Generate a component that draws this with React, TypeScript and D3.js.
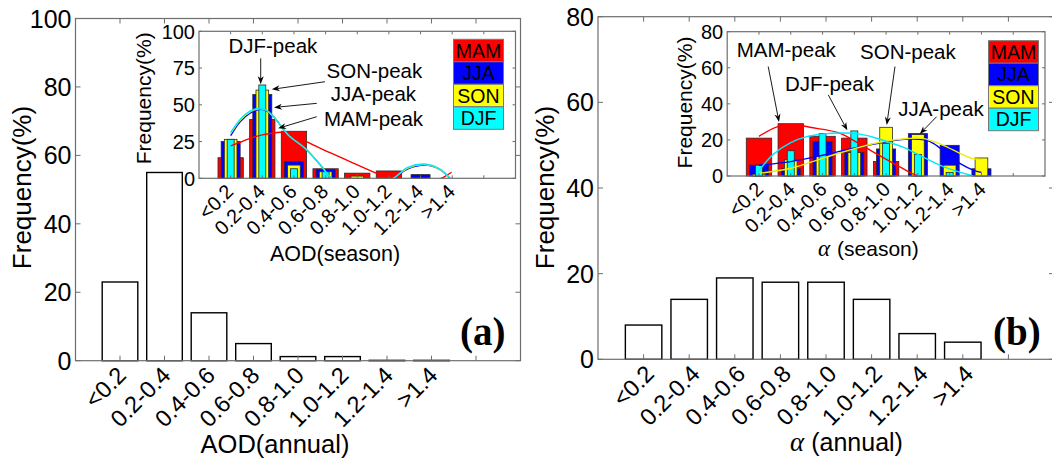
import React from "react";
import * as d3 from "d3";

// ---------------- DATA ----------------
const categories = ["<0.2", "0.2-0.4", "0.4-0.6", "0.6-0.8", "0.8-1.0", "1.0-1.2", "1.2-1.4", ">1.4"];
const seasons = ["MAM", "JJA", "SON", "DJF"];

const aodAnnual = [23, 55, 14, 5, 1.2, 1.2, 0.1, 0.1];
const alphaAnnual = [8, 14, 19, 18, 18, 14, 6, 4];

const aodMAM = [14, 40, 32, 6.5, 3.5, 5, 0, 0];
const aodJJA = [25, 57, 11.5, 6, 0, 0, 2.5, 0];
const aodSON = [26.5, 60, 9, 4.5, 1.5, 0, 0, 0];
const aodDJF = [26.5, 63.5, 6.5, 4.5, 0, 0, 0, 0];

const alphaMAM = [21, 29, 22, 21, 8, 0, 0, 0];
const alphaJJA = [6, 4, 19, 13, 15, 23.5, 17, 4];
const alphaSON = [1, 9, 11, 13, 27, 23, 6, 10];
const alphaDJF = [6, 14, 23.5, 25, 18, 12, 2, 0];

// fitted curves: [category position, frequency %]
const aodCurveMAM: [number, number][] = [[1, 22], [1.32, 24.7], [1.55, 26.7], [2, 29.5], [2.4, 31], [2.7, 31.5], [3.0, 30], [3.35, 25.4], [4.14, 17.4], [5.56, 3.8], [6.0, -1], [6.6, -5], [7.2, -4], [7.72, 0.7], [7.98, 4.1]];
const aodCurveJJA: [number, number][] = [[1, 29], [1.3, 38.5], [1.6, 44.2], [1.9, 46.8], [2.1, 46.3], [2.35, 42], [2.82, 29.5], [3.35, 20.4], [3.88, 7.9], [4.19, 0], [4.8, -6], [5.5, -5], [6.14, 0], [6.6, 6.5], [7.19, 9], [7.6, 6], [7.93, 0]];
const aodCurveSON: [number, number][] = [[1, 30.5], [1.3, 39.5], [1.6, 45], [1.9, 47.3], [2.1, 46.5], [2.35, 42], [2.82, 29.5], [3.35, 20.4], [3.88, 7.9], [4.19, 0], [4.8, -6], [5.5, -5], [6.14, 0], [6.6, 7], [7.19, 9.2], [7.6, 6.2], [7.93, 0]];
const aodCurveDJF: [number, number][] = [[1, 31], [1.3, 40], [1.6, 45.5], [1.9, 47.6], [2.1, 46.8], [2.35, 42], [2.82, 29.5], [3.35, 20.4], [3.88, 7.9], [4.19, 0], [4.8, -6], [5.5, -5], [6.14, 0], [6.6, 7.5], [7.19, 9.6], [7.6, 6.5], [7.93, 0]];

const alphaCurveMAM: [number, number][] = [[1, 22], [1.6, 27.4], [2.2, 28.3], [2.6, 27], [3.5, 24], [4.0, 19.5], [4.67, 12.6], [5.33, 6.1], [5.7, 2.4], [6.0, 0]];
const alphaCurveJJA: [number, number][] = [[1, 6], [2, 8], [3, 11.5], [4, 15.5], [5, 19], [5.6, 20.3], [6.2, 20], [6.5, 18], [7, 11], [7.32, 7], [7.74, 3.3], [8, 2]];
const alphaCurveSON: [number, number][] = [[1, 1.5], [2, 4.3], [3, 9.8], [4, 15.2], [5, 19.4], [5.7, 20.8], [6.2, 20.7], [6.8, 17], [7.32, 12.6], [7.7, 9.8], [8, 9]];
const alphaCurveDJF: [number, number][] = [[1, 3], [1.45, 12], [2, 18.5], [2.5, 21.8], [3, 23.2], [3.55, 23.8], [4.07, 23.5], [4.6, 21.5], [5.12, 18.5], [5.54, 16], [6, 12], [6.8, 5.2], [7.74, 0]];

const aodYTicks = [0, 20, 40, 60, 80, 100];
const alphaYTicks = [0, 20, 40, 60, 80];
const aodInsetYTicks = [0, 25, 50, 75, 100];
const alphaInsetYTicks = [0, 20, 40, 60, 80];

// ---------------- STYLE / LAYOUT ----------------
const SANS = "'Liberation Sans', Arial, Helvetica, sans-serif";
const SERIF = "'Liberation Serif', 'Times New Roman', serif";
const seasonFill = ["#ff0000", "#0000ff", "#ffff00", "#00ffff"];
const curveColor = ["#ff0000", "#0000ff", "#eeee00", "#00e8ff"];
const seasonBarWidth = [0.8, 0.6, 0.4, 0.22];
const AXIS = "#6e6e6e";

type Box = { l: number; r: number; t: number; b: number };
type Annot = { label: string; tx: number; ty: number; from: [number, number]; to: [number, number] };

const aodAnnots: Annot[] = [
  { label: "DJF-peak", tx: 0.93, ty: 85.5, from: [1.95, 81.6], to: [1.95, 64] },
  { label: "SON-peak", tx: 4.03, ty: 68.5, from: [3.98, 65.7], to: [2.3, 60.5] },
  { label: "JJA-peak", tx: 4.16, ty: 52.6, from: [3.72, 51], to: [2.37, 48.2] },
  { label: "MAM-peak", tx: 3.95, ty: 35.6, from: [3.72, 41.9], to: [2.5, 34] },
];
const alphaAnnots: Annot[] = [
  { label: "MAM-peak", tx: 0.3, ty: 65.7, from: [1.29, 60.7], to: [1.63, 30] },
  { label: "DJF-peak", tx: 1.82, ty: 47.2, from: [3.18, 45], to: [3.78, 25.3] },
  { label: "SON-peak", tx: 4.18, ty: 64.8, from: [5.28, 60.7], to: [5.02, 28.3] },
  { label: "JJA-peak", tx: 5.38, ty: 33.3, from: [6.59, 32.9], to: [6.06, 23.3] },
];

function Arrow({ x1, y1, x2, y2 }: { x1: number; y1: number; x2: number; y2: number }) {
  const a = Math.atan2(y2 - y1, x2 - x1);
  const L = 8, hw = 3;
  const bx = x2 - L * Math.cos(a), by = y2 - L * Math.sin(a);
  const nx = x2 - L * 0.7 * Math.cos(a), ny = y2 - L * 0.7 * Math.sin(a);
  const p1 = [bx + hw * Math.sin(a), by - hw * Math.cos(a)];
  const p2 = [bx - hw * Math.sin(a), by + hw * Math.cos(a)];
  return (
    <g>
      <line x1={x1} y1={y1} x2={nx} y2={ny} stroke="#000" strokeWidth={0.9} />
      <path d={`M${x2},${y2}L${p1[0]},${p1[1]}L${nx},${ny}L${p2[0]},${p2[1]}Z`} fill="#000" />
    </g>
  );
}

function Frame({ box, x, y, yTicks, tickLen, tickFont, labelGap }: any) {
  const xt = d3.range(1, 10);
  return (
    <g>
      <rect x={box.l} y={box.t} width={box.r - box.l} height={box.b - box.t} fill="none" stroke={AXIS} strokeWidth={1.2} />
      {xt.map((v) => (
        <g key={"xt" + v}>
          <line x1={x(v)} x2={x(v)} y1={box.b} y2={box.b - tickLen} stroke={AXIS} strokeWidth={1} />
          <line x1={x(v)} x2={x(v)} y1={box.t} y2={box.t + tickLen} stroke={AXIS} strokeWidth={1} />
        </g>
      ))}
      {yTicks.map((v: number) => (
        <g key={"yt" + v}>
          <line x1={box.l} x2={box.l + tickLen} y1={y(v)} y2={y(v)} stroke={AXIS} strokeWidth={1} />
          <line x1={box.r} x2={box.r - tickLen} y1={y(v)} y2={y(v)} stroke={AXIS} strokeWidth={1} />
          <text x={box.l - labelGap} y={y(v)} dy="0.36em" textAnchor="end" fontFamily={SANS} fontSize={tickFont} fill="#000">
            {v}
          </text>
        </g>
      ))}
    </g>
  );
}

function MainPanel({ box, yMax, yTicks, values, tickDx, tickDy, letter, letterX, ylabelX, ylabelY, xTitle }: any) {
  const x = d3.scaleLinear().domain([0, 10]).range([box.l, box.r]);
  const y = d3.scaleLinear().domain([0, yMax]).range([box.b, box.t]);
  const bw = 0.8;
  return (
    <g>
      {values.map((v: number, i: number) => (
        <rect key={i} x={x(i + 1 - bw / 2)} y={y(v)} width={x(bw) - x(0)} height={y(0) - y(v)} fill="#fff" stroke="#000" strokeWidth={1.4} />
      ))}
      <Frame box={box} x={x} y={y} yTicks={yTicks} tickLen={5} tickFont={25} labelGap={4} />
      {categories.map((c, i) => (
        <text key={c} transform={`translate(${x(i + 1) + tickDx},${box.b + tickDy}) rotate(-45)`} textAnchor="end" fontFamily={SANS} fontSize={23.5} fill="#000">
          {c}
        </text>
      ))}
      <text transform={`translate(${ylabelX},${ylabelY}) rotate(-90)`} textAnchor="middle" fontFamily={SANS} fontSize={26} fill="#000">
        Frequency(%)
      </text>
      {xTitle}
      <text x={letterX} y={345} fontFamily={SERIF} fontWeight="bold" fontSize={39} fill="#000">
        {letter}
      </text>
    </g>
  );
}

function Inset({ id, box, yMax, yTicks, series, curves, annots, legendRight, legendTop, ylabelX, ylabelY, tickDx, xTitle }: any) {
  const x = d3.scaleLinear().domain([0, 10]).range([box.l, box.r]);
  const y = d3.scaleLinear().domain([0, yMax]).range([box.b, box.t]);
  const line = d3
    .line<[number, number]>()
    .x((d) => x(d[0]))
    .y((d) => y(d[1]))
    .curve(d3.curveCatmullRom.alpha(0.5));
  const lw = 50, lh = 22.5;
  const lx = box.r - legendRight - lw, ly = box.t + legendTop;
  return (
    <g>
      <rect x={box.l} y={box.t} width={box.r - box.l} height={box.b - box.t} fill="#fff" />
      <defs>
        <clipPath id={id}>
          <rect x={box.l} y={box.t} width={box.r - box.l} height={box.b - box.t} />
        </clipPath>
      </defs>
      {series.map((vals: number[], si: number) =>
        vals.map((v: number, i: number) =>
          v > 0 ? (
            <rect
              key={si + "-" + i}
              x={x(i + 1 - seasonBarWidth[si] / 2)}
              y={y(v)}
              width={x(seasonBarWidth[si]) - x(0)}
              height={y(0) - y(v)}
              fill={seasonFill[si]}
              stroke="#2a2a2a"
              strokeWidth={0.8}
            />
          ) : null
        )
      )}
      <g clipPath={`url(#${id})`}>
        {curves.map((c: [number, number][], si: number) => (
          <path key={si} d={line(c) || ""} fill="none" stroke={curveColor[si]} strokeWidth={1.4} />
        ))}
      </g>
      <Frame box={box} x={x} y={y} yTicks={yTicks} tickLen={3} tickFont={20} labelGap={4} />
      {categories.map((c, i) => (
        <text key={c} transform={`translate(${x(i + 1) + tickDx},${box.b + 14.5}) rotate(-45)`} textAnchor="end" fontFamily={SANS} fontSize={19.8} fill="#000">
          {c}
        </text>
      ))}
      <text transform={`translate(${ylabelX},${ylabelY}) rotate(-90)`} textAnchor="middle" fontFamily={SANS} fontSize={21} fill="#000">
        Frequency(%)
      </text>
      {xTitle}
      {annots.map((a: Annot) => (
        <g key={a.label}>
          <text x={x(a.tx)} y={y(a.ty)} fontFamily={SANS} fontSize={20.5} fill="#000">
            {a.label}
          </text>
          <Arrow x1={x(a.from[0])} y1={y(a.from[1])} x2={x(a.to[0])} y2={y(a.to[1])} />
        </g>
      ))}
      {seasons.map((s, si) => (
        <g key={s}>
          <rect x={lx} y={ly + si * lh} width={lw} height={lh} fill={seasonFill[si]} stroke="#777" strokeWidth={1} />
          <text x={lx + lw / 2} y={ly + si * lh + lh / 2} dy="0.36em" textAnchor="middle" fontFamily={SANS} fontSize={19.5} fill="#000">
            {s}
          </text>
        </g>
      ))}
    </g>
  );
}

export default function App() {
  const boxA: Box = { l: 75.5, r: 520.5, t: 18.5, b: 360.7 };
  const boxB: Box = { l: 598, r: 1054, t: 16.7, b: 359.3 };
  const insetA: Box = { l: 199, r: 515.5, t: 31.3, b: 178.3 };
  const insetB: Box = { l: 727.2, r: 1045, t: 31.7, b: 176 };
  return (
    <svg width={1052} height={463} viewBox="0 0 1052 463" style={{ position: "absolute", left: 0, top: 0, background: "#fff" }}>
      <rect width={1052} height={463} fill="#fff" />
      <MainPanel
        box={boxA}
        yMax={100}
        yTicks={aodYTicks}
        values={aodAnnual}
        tickDx={7.5}
        tickDy={16}
        letter="(a)"
        letterX={460}
        ylabelX={30.5}
        ylabelY={187.5}
        xTitle={
          <text x={275} y={453} textAnchor="middle" fontFamily={SANS} fontSize={25.5} fill="#000">
            AOD(annual)
          </text>
        }
      />
      <MainPanel
        box={boxB}
        yMax={80}
        yTicks={alphaYTicks}
        values={alphaAnnual}
        tickDx={12}
        tickDy={16}
        letter="(b)"
        letterX={993}
        ylabelX={554}
        ylabelY={187.5}
        xTitle={
          <text x={790} y={451} fontFamily={SANS} fontSize={25} fill="#000">
            <tspan fontFamily={SERIF} fontStyle="italic" fontSize={27}>α</tspan>
            <tspan dx={7}>(annual)</tspan>
          </text>
        }
      />
      <Inset
        id="clipA"
        box={insetA}
        yMax={100}
        yTicks={aodInsetYTicks}
        series={[aodMAM, aodJJA, aodSON, aodDJF]}
        curves={[aodCurveMAM, aodCurveJJA, aodCurveSON, aodCurveDJF]}
        annots={aodAnnots}
        legendRight={12}
        legendTop={8}
        ylabelX={150.5}
        ylabelY={98.3}
        tickDx={4}
        xTitle={
          <text x={335} y={260.5} textAnchor="middle" fontFamily={SANS} fontSize={21.5} fill="#000">
            AOD(season)
          </text>
        }
      />
      <Inset
        id="clipB"
        box={insetB}
        yMax={80}
        yTicks={alphaInsetYTicks}
        series={[alphaMAM, alphaJJA, alphaSON, alphaDJF]}
        curves={[alphaCurveMAM, alphaCurveJJA, alphaCurveSON, alphaCurveDJF]}
        annots={alphaAnnots}
        legendRight={6.5}
        legendTop={9}
        ylabelX={692}
        ylabelY={102.5}
        tickDx={5.5}
        xTitle={
          <text x={818} y={255.5} fontFamily={SANS} fontSize={21} fill="#000">
            <tspan fontFamily={SERIF} fontStyle="italic" fontSize={23}>α</tspan>
            <tspan dx={7}>(season)</tspan>
          </text>
        }
      />
    </svg>
  );
}
